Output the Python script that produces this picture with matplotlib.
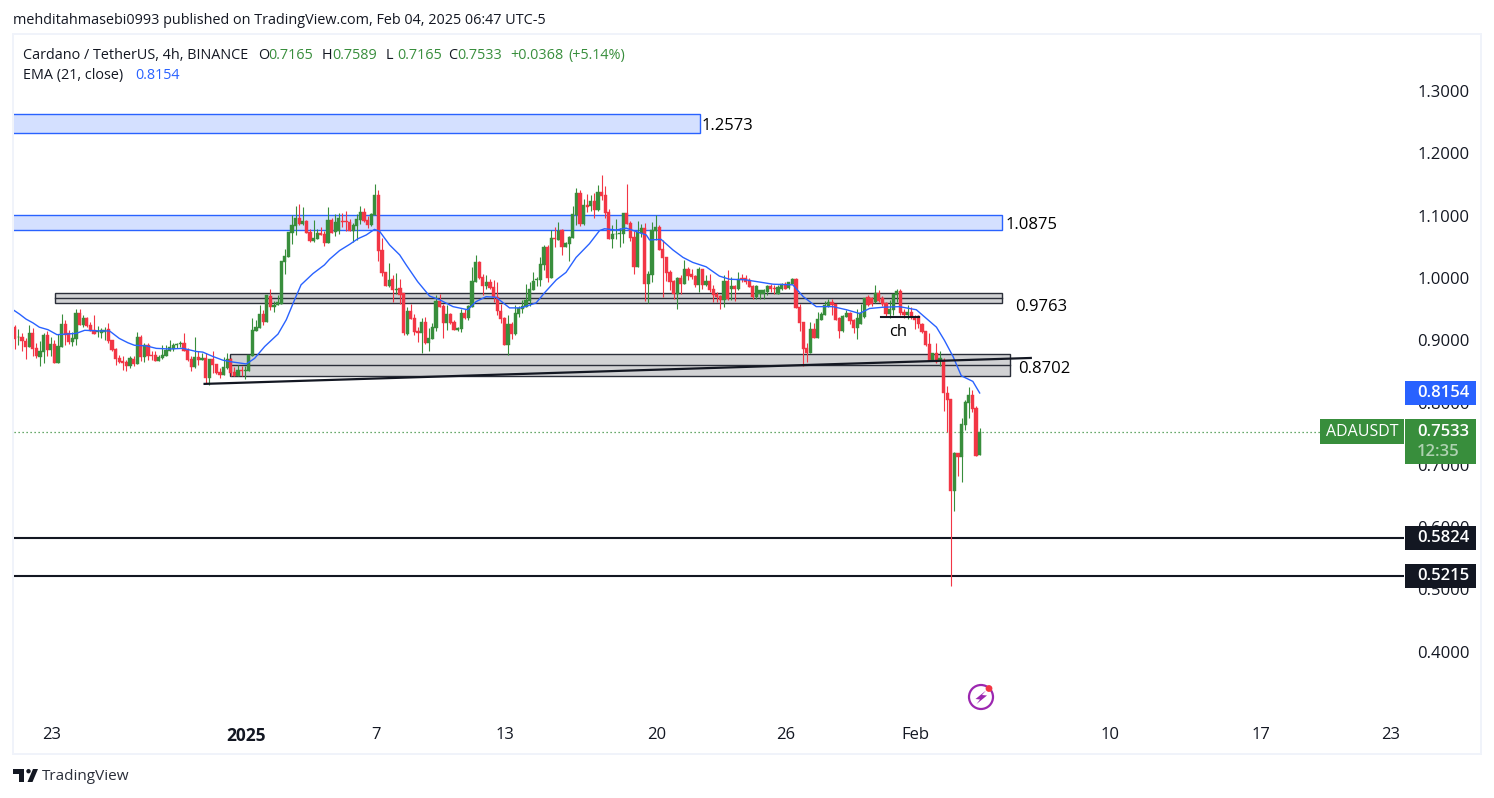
import matplotlib
matplotlib.use('Agg')
import matplotlib.pyplot as plt
import matplotlib.dates as mdates
from matplotlib.patches import Rectangle, Circle, Polygon
import numpy as np
import pandas as pd

plt.rcParams['font.family'] = ['Open Sans', 'DejaVu Sans']

# 4h candles
opens = [
    .922, .905, .905, .899, .889, .912, .888, .873, .881, .909,
    .885, .894, .864, .890, .926, .912, .897, .902, .944, .925,
    .936, .925, .917, .913, .912, .913, .918, .901, .886, .871,
    .867, .865, .859, .870, .862, .905, .873, .892, .876, .876,
    .867, .872, .875, .883, .886, .892, .894, .896, .884, .870,
    .857, .873, .869, .872, .840, .870, .862, .849, .844, .856,
    .870, .849, .843, .852, .851, .851, .875, .915, .920, .942,
    .930, .971, .954, .956, .958, 1.026, 1.034, 1.072, 1.084, 1.096,
    1.087, 1.091, 1.074, 1.059, 1.063, 1.072, 1.071, 1.056, 1.093, 1.074,
    1.076, 1.091, 1.091, 1.090, 1.076, 1.084, 1.093, 1.106, 1.093, 1.085,
    1.101, 1.133, 1.045, 1.010, .987, .998, .981, .984, .976, .910,
    .947, .936, .915, .911, .929, .896, .902, .920, .963, .955,
    .928, .942, .929, .916, .918, .944, .936, .953, .994, 1.026,
    1.002, .987, .994, .986, .970, .947, .936, .892, .926, .910,
    .942, .950, .954, .963, .981, .996, .996, 1.021, 1.050, 1.000,
    1.064, 1.061, 1.077, 1.049, 1.055, 1.064, 1.101, 1.136, 1.087, 1.117,
    1.116, 1.124, 1.109, 1.138, 1.133, 1.106, 1.063, 1.070, 1.071, 1.071,
    1.104, 1.088, 1.066, 1.018, 1.072, 1.080, .990, 1.005, 1.075, 1.082,
    1.047, 1.034, 1.010, .995, .974, 1.000, .991, 1.014, 1.006, 1.003,
    .989, 1.014, .988, .995, .982, .974, .971, .965, .995, .983,
    .987, .982, 1.000, 1.000, .997, .987, .970, .975, .974, .977,
    .987, .984, .975, .982, .991, .984, .991, .998, .953, .929,
    .887, .880, .918, .904, .933, .941, .955, .961, .958, .936,
    .915, .937, .944, .933, .920, .926, .937, .970, .968, .961,
    .976, .968, .960, .942, .949, .973, .979, .945, .941, .945,
    .938, .939, .926, .915, .894, .867, .879, .868, .869, .815,
    .805, .658, .719, .712, .764, .799, .812, .791, .7165,
]
closes = [
    .902, .906, .899, .890, .912, .886, .874, .883, .909, .885,
    .894, .864, .891, .926, .909, .897, .904, .944, .925, .936,
    .923, .915, .910, .915, .917, .917, .899, .885, .870, .865,
    .864, .859, .872, .862, .905, .873, .892, .875, .875, .867,
    .873, .876, .884, .889, .892, .894, .895, .883, .868, .857,
    .873, .868, .871, .840, .870, .861, .847, .844, .857, .870,
    .848, .843, .852, .851, .852, .877, .917, .921, .942, .930,
    .972, .954, .957, .961, 1.027, 1.035, 1.074, 1.085, 1.096, 1.087,
    1.091, 1.072, 1.059, 1.064, 1.072, 1.069, 1.056, 1.093, 1.072, 1.090,
    1.097, 1.090, 1.090, 1.076, 1.085, 1.094, 1.106, 1.091, 1.085, 1.103,
    1.133, 1.043, 1.008, .987, .997, .981, .982, .973, .912, .947,
    .934, .913, .911, .929, .896, .904, .921, .963, .953, .928,
    .942, .928, .917, .920, .944, .936, .955, .995, 1.026, 1.000,
    .987, .994, .984, .970, .947, .934, .892, .926, .910, .944,
    .952, .955, .965, .982, .995, .998, 1.022, 1.050, 1.000, 1.064,
    1.063, 1.075, 1.050, 1.056, 1.066, 1.103, 1.136, 1.087, 1.117, 1.114,
    1.124, 1.109, 1.138, 1.132, 1.104, 1.063, 1.071, 1.071, 1.072, 1.104,
    1.087, 1.064, 1.018, 1.074, 1.080, .990, 1.006, 1.077, 1.082, 1.045,
    1.032, 1.008, .994, .974, 1.000, .991, 1.014, 1.003, 1.001, .989,
    1.014, .989, .995, .981, .973, .969, .964, .995, .967, .987,
    .983, .998, .998, .994, .985, .970, .987, .980, .981, .987,
    .983, .982, .985, .991, .983, .993, .998, .952, .928, .886,
    .880, .918, .904, .934, .942, .957, .961, .957, .933, .915,
    .939, .944, .931, .920, .936, .943, .968, .957, .958, .976,
    .963, .958, .942, .950, .974, .979, .943, .941, .945, .937,
    .932, .926, .913, .892, .866, .879, .865, .871, .815, .804,
    .658, .719, .712, .766, .801, .812, .790, .714, .7533,
]
highs = [
    .924, .918, .911, .903, .925, .919, .895, .899, .911, .915,
    .906, .901, .910, .942, .933, .917, .914, .950, .950, .941,
    .938, .930, .941, .923, .919, .922, .927, .901, .887, .876,
    .875, .868, .874, .874, .914, .909, .895, .895, .882, .882,
    .876, .892, .892, .901, .895, .896, .899, .912, .887, .874,
    .905, .882, .879, .880, .870, .882, .862, .855, .873, .880,
    .871, .857, .860, .859, .858, .877, .935, .933, .956, .949,
    .973, .982, .963, .973, 1.027, 1.046, 1.074, 1.101, 1.116, 1.119,
    1.114, 1.093, 1.079, 1.093, 1.078, 1.082, 1.075, 1.114, 1.097, 1.103,
    1.104, 1.104, 1.108, 1.094, 1.088, 1.102, 1.116, 1.112, 1.100, 1.104,
    1.151, 1.141, 1.064, 1.010, 1.024, 1.005, 1.008, .999, .976, .953,
    .959, .942, .922, .935, .937, .919, .927, .973, .974, .959,
    .957, .943, .933, .922, .950, .950, .957, 1.018, 1.037, 1.027,
    1.007, 1.005, .998, .997, .994, .959, .938, .941, .930, .956,
    .955, .965, .990, .994, 1.010, 1.002, 1.033, 1.053, 1.053, 1.077,
    1.082, 1.090, 1.079, 1.057, 1.067, 1.116, 1.144, 1.141, 1.127, 1.135,
    1.133, 1.136, 1.149, 1.165, 1.147, 1.111, 1.085, 1.094, 1.080, 1.105,
    1.151, 1.092, 1.076, 1.091, 1.087, 1.088, 1.011, 1.090, 1.101, 1.085,
    1.061, 1.034, 1.013, .996, 1.002, 1.005, 1.029, 1.018, 1.015, 1.005,
    1.018, 1.015, 1.005, 1.006, .989, .978, .973, 1.005, 1.012, 1.002,
    .989, 1.009, 1.006, 1.005, 1.000, .989, .989, .981, .982, .989,
    .990, .989, .989, .992, .994, .994, 1.000, 1.000, .958, .929,
    .895, .930, .927, .946, .946, .963, .967, .967, .958, .938,
    .941, .949, .946, .934, .951, .959, .968, .973, .970, .989,
    .981, .971, .961, .965, .975, .983, .983, .951, .957, .954,
    .941, .941, .927, .915, .911, .880, .895, .883, .871, .827,
    .805, .721, .719, .775, .804, .825, .820, .795, .7589,
]
lows = [
    .886, .892, .883, .870, .889, .874, .871, .859, .863, .874,
    .874, .864, .864, .890, .892, .894, .891, .892, .925, .922,
    .922, .915, .910, .906, .904, .901, .896, .883, .860, .863,
    .852, .851, .856, .858, .862, .867, .865, .869, .868, .867,
    .867, .870, .874, .882, .882, .887, .890, .883, .867, .851,
    .855, .860, .868, .831, .829, .847, .846, .839, .844, .854,
    .842, .842, .842, .842, .838, .851, .875, .915, .920, .925,
    .929, .949, .946, .956, .958, 1.007, 1.034, 1.055, 1.069, 1.085,
    1.085, 1.072, 1.057, 1.058, 1.063, 1.069, 1.051, 1.056, 1.072, 1.067,
    1.071, 1.082, 1.076, 1.076, 1.058, 1.061, 1.087, 1.090, 1.080, 1.084,
    1.101, 1.027, 1.003, .987, .986, .961, .974, .959, .909, .909,
    .934, .909, .897, .880, .894, .883, .902, .915, .953, .904,
    .917, .926, .917, .915, .913, .934, .933, .953, .994, .998,
    .973, .983, .983, .961, .941, .928, .892, .876, .902, .909,
    .938, .944, .954, .955, .981, .987, .987, 1.013, .994, 1.000,
    1.050, 1.061, 1.037, 1.049, 1.027, 1.064, 1.085, 1.083, 1.085, 1.106,
    1.108, 1.096, 1.108, 1.125, 1.096, 1.063, 1.048, 1.063, 1.050, 1.056,
    1.087, 1.059, 1.006, 1.018, 1.065, .963, .960, .994, 1.061, 1.045,
    .969, .995, .981, .966, .950, .975, .991, .997, .999, .985,
    .978, .983, .987, .978, .962, .962, .951, .954, .965, .965,
    .963, .981, .994, .991, .985, .966, .967, .967, .967, .973,
    .978, .974, .974, .981, .983, .982, .990, .952, .915, .858,
    .865, .880, .904, .904, .932, .941, .954, .941, .932, .904,
    .914, .937, .926, .912, .902, .926, .936, .955, .955, .960,
    .961, .955, .937, .935, .941, .962, .941, .935, .934, .934,
    .918, .919, .912, .891, .866, .866, .863, .858, .787, .752,
    .506, .626, .682, .673, .756, .775, .785, .714, .7165,
]

# EMA 21 as read at selected candle positions
ema_pos = [
    -0.5, 1.3, 3.1, 5, 6.8, 9.2, 11.7, 14.3, 17, 19.4, 23.5, 26.3, 29, 31.4, 33.2, 36.5, 39.3, 43,
    46.7, 50.4, 52.2, 55, 57.8, 60.6, 64.3, 66.6, 69.4, 73.1, 75.4, 77.7, 79.5, 82.8, 86, 87.4, 90.2,
    93, 95.3, 97.6, 99.9, 101.3, 104.1, 106.9, 108.7, 111.9, 115.2, 118, 121.7, 125.8, 128.1, 130.9,
    133.7, 137.4, 140.6, 144.8, 147.1, 150.4, 153.1, 155.9, 159.6, 162.4, 163.8, 167, 169.8, 175.4,
    176.3, 179.5, 182.8, 185.6, 188.3, 192, 195.7, 198.5, 203, 210.6, 216.1, 219, 222.6, 227.2, 231,
    234.6, 237.4, 241.1, 245.7, 250.4, 253.2, 256, 258.2, 260.6, 262.9, 266.1, 268,
]
ema_vals = [
    .949, .942, .934, .928, .921, .917, .909, .910, .911, .916, .915, .915, .903, .896, .892, .891, .887, .886,
    .887, .882, .881, .874, .868, .865, .862, .871, .890, .910, .933, .965, .989, 1.007, 1.021, 1.030, 1.044,
    1.054, 1.063, 1.069, 1.078, 1.075, 1.053, 1.037, 1.021, .994, .971, .965, .954, .949, .962, .970,
    .969, .952, .952, .960, .976, .997, 1.009, 1.033, 1.055, 1.076, 1.079, 1.077, 1.080, 1.069,
    1.061, 1.062, 1.045, 1.033, 1.025, 1.018, 1.003, .998, .997, .990, .989, .970, .954, .954, .949,
    .943, .951, .953, .954, .949, .935, .921, .900, .874, .843, .834, .8154,
]

price_ticks = [1.3, 1.2, 1.1, 1.0, 0.9, 0.8, 0.7, 0.6, 0.5, 0.4]
date_ticks = ['2024-12-23', '2025-01-01', '2025-01-07', '2025-01-13', '2025-01-20',
              '2025-01-26', '2025-02-01', '2025-02-10', '2025-02-17', '2025-02-23']
date_labels = ['23', '2025', '7', '13', '20', '26', 'Feb', '10', '17', '23']

GREEN = '#388e3c'
RED = '#f23645'
BLUE = '#2962ff'
DARK = '#131722'
W, H = 1494, 798


def num(s):
    return mdates.date2num(pd.Timestamp(s))


fig = plt.figure(figsize=(W / 100, H / 100), dpi=100, facecolor='white')
ax = fig.add_axes([14 / W, 1 - 719 / H, 1390 / W, 684 / H])
ax.set_xlim(num('2024-12-21 06:15'), num('2025-02-23 14:40'))
ax.set_ylim(0.2921, 1.3900)

times = pd.date_range('2024-12-21 07:12', periods=len(opens), freq='4h')
x = mdates.date2num(times)
o = np.array(opens)
c = np.array(closes)
colors = np.where(c >= o, GREEN, RED)

# zones go under the candles
for x0, x1, top, bot, mid, fc, ec in [
    ('2024-12-20', '2025-01-22 00:00', 1.2630, 1.2327, None, '#d4e0ff', BLUE),
    ('2024-12-20', '2025-02-05 00:00', 1.1006, 1.0765, None, '#d4e0ff', BLUE),
    ('2024-12-23 04:00', '2025-02-05 00:00', 0.9754, 0.9594, 0.9674, '#d1d2d4', '#2a2e39'),
    ('2024-12-31 06:00', '2025-02-05 09:00', 0.8775, 0.8423, 0.8599, '#d1d2d4', '#2a2e39'),
]:
    ax.add_patch(Rectangle((num(x0), bot), num(x1) - num(x0), top - bot, fc=fc, ec=ec, lw=1.0, zorder=1))
    if mid is not None:
        ax.plot([num(x0), num(x1)], [mid, mid], color=ec, lw=1.0, zorder=1.1)

ax.axhline(0.7533, color=GREEN, lw=0.9, ls=(0, (1, 2.2)), zorder=1.5)
ax.axhline(0.5824, color=DARK, lw=1.5, zorder=1.5)
ax.axhline(0.5215, color=DARK, lw=1.5, zorder=1.5)

ax.vlines(x, lows, highs, colors=colors, lw=0.8, zorder=3)
ax.bar(x, np.abs(c - o), bottom=np.minimum(o, c), width=0.15, color=colors, edgecolor=colors, lw=0.3, zorder=3.1)

ax.plot(x[0] + np.array(ema_pos) / 6, ema_vals, color=BLUE, lw=1.0, zorder=4)

# trend line and the short ch line
ax.plot([num('2024-12-30 02:00'), num('2025-02-06 08:00')], [0.830, 0.8716], color=DARK, lw=1.6, zorder=5)
ax.plot([num('2025-01-30 10:00'), num('2025-02-01 04:00')], [0.9379, 0.9379], color=DARK, lw=1.5, zorder=5)
ax.text(num('2025-01-31 05:00'), 0.9135, 'ch', fontsize=12, color='black', ha='center', va='center', zorder=6)

for when, val, txt in [
    ('2025-01-22 02:00', 1.2444, '1.2573'),
    ('2025-02-05 03:30', 1.0852, '1.0875'),
    ('2025-02-05 14:30', 0.9536, '0.9763'),
    ('2025-02-05 18:00', 0.8540, '0.8702'),
]:
    ax.text(num(when), val, txt, fontsize=12, color='black', va='center', ha='left', zorder=6)

ax.set_xticks([num(d) for d in date_ticks])
ax.set_xticklabels(date_labels)
ax.yaxis.tick_right()
ax.set_yticks(price_ticks)
ax.set_yticklabels(['%.4f' % p for p in price_ticks])
ax.tick_params(axis='x', length=0, pad=5.5, labelsize=12, labelcolor=DARK)
ax.tick_params(axis='y', length=0, pad=9.5, labelsize=12, labelcolor=DARK)
ax.get_xticklabels()[1].set_fontweight('bold')
ax.get_xticklabels()[1].set_fontsize(12.5)
for lab in ax.get_yticklabels():
    lab.set_fontweight('medium')
for s in ax.spines.values():
    s.set_visible(False)

# price flags on the scale
ytrans = ax.get_yaxis_transform()
px = 1 / 1390
py = 1 / 623


def flag(value, txt, color, x0=1391, x1=1462, up=12.2, down=12.2):
    ax.add_patch(Rectangle((x0 * px, value - down * py), (x1 - x0) * px, (up + down) * py, fc=color, ec='none',
                           transform=ytrans, clip_on=False, zorder=9))
    ax.text((x0 + 12) * px, value, txt, color='white', fontsize=12, fontweight='semibold',
            va='center', ha='left', transform=ytrans, clip_on=False, zorder=10)


flag(0.8154, '0.8154', BLUE)
flag(0.5824, '0.5824', DARK)
flag(0.5215, '0.5215', DARK)
flag(0.7533, '0.7533', GREEN, up=12.5, down=32.5)
ax.text((1391 + 12) * px, 0.7533 - 20.5 * py, '12:35', color='#afd2b1', fontsize=12, fontweight='semibold',
        va='center', ha='left', transform=ytrans, clip_on=False, zorder=10)
ax.add_patch(Rectangle((1306 * px, 0.7533 - 12.5 * py), 84 * px, 25 * py, fc=GREEN, ec='none', transform=ytrans,
                       clip_on=False, zorder=9))
ax.text(1348 * px, 0.7533, 'ADAUSDT', color='white', fontsize=11.5, va='center', ha='center', transform=ytrans,
        clip_on=False, zorder=10)

# page furniture in pixel coordinates
ov = fig.add_axes([0, 0, 1, 1])
ov.set_xlim(0, W)
ov.set_ylim(H, 0)
ov.axis('off')
ov.patch.set_visible(False)
ov.add_patch(Rectangle((13, 34), 1468, 720, fc='none', ec='#f0f3fa', lw=1.4))

ov.text(13, 20.5, 'mehditahmasebi0993 published on TradingView.com, Feb 04, 2025 06:47 UTC-5', fontsize=10.35,
        color=DARK, va='center')
ov.text(23, 55.5, 'Cardano / TetherUS, 4h, BINANCE', fontsize=10.4, color=DARK, va='center')
for xp, txt, col in [
    (258, 'O', DARK), (268.5, '0.7165', GREEN), (322, 'H', DARK), (332, '0.7589', GREEN),
    (386, 'L', DARK), (397, '0.7165', GREEN), (448, 'C', DARK), (457, '0.7533', GREEN),
    (510.5, '+0.0368', GREEN), (568, '(+5.14%)', GREEN),
]:
    ov.text(xp, 55.5, txt, fontsize=10.4, color=col, va='center')
ov.text(23, 75.5, 'EMA (21, close)', fontsize=10.4, color=DARK, va='center')
ov.text(135, 75.5, '0.8154', fontsize=10.4, color=BLUE, va='center')

# TradingView mark
ov.add_patch(Polygon([(13, 769), (24, 769), (24, 782), (19, 782), (19, 773.5), (13, 773.5)], fc=DARK, ec='none'))
ov.add_patch(Circle((28.5, 771.2), 2.2, fc=DARK, ec='none'))
ov.add_patch(Polygon([(33, 769), (38, 769), (32.5, 782), (27.5, 782)], fc=DARK, ec='none'))
ov.text(42, 777, 'TradingView', fontsize=11, color='#2a2e39', va='center')

# lightning icon
ov.add_patch(Circle((981, 697), 12, fc='none', ec='#9c27b0', lw=1.6))
ov.add_patch(Polygon([(986, 690.5), (975.5, 699), (980, 699.5), (976.5, 704), (987, 695.5), (982, 695)],
                     fc='#9c27b0', ec='none'))
ov.add_patch(Circle((989, 688.5), 3.4, fc=RED, ec='none'))

fig.savefig('out.png', dpi=100)
